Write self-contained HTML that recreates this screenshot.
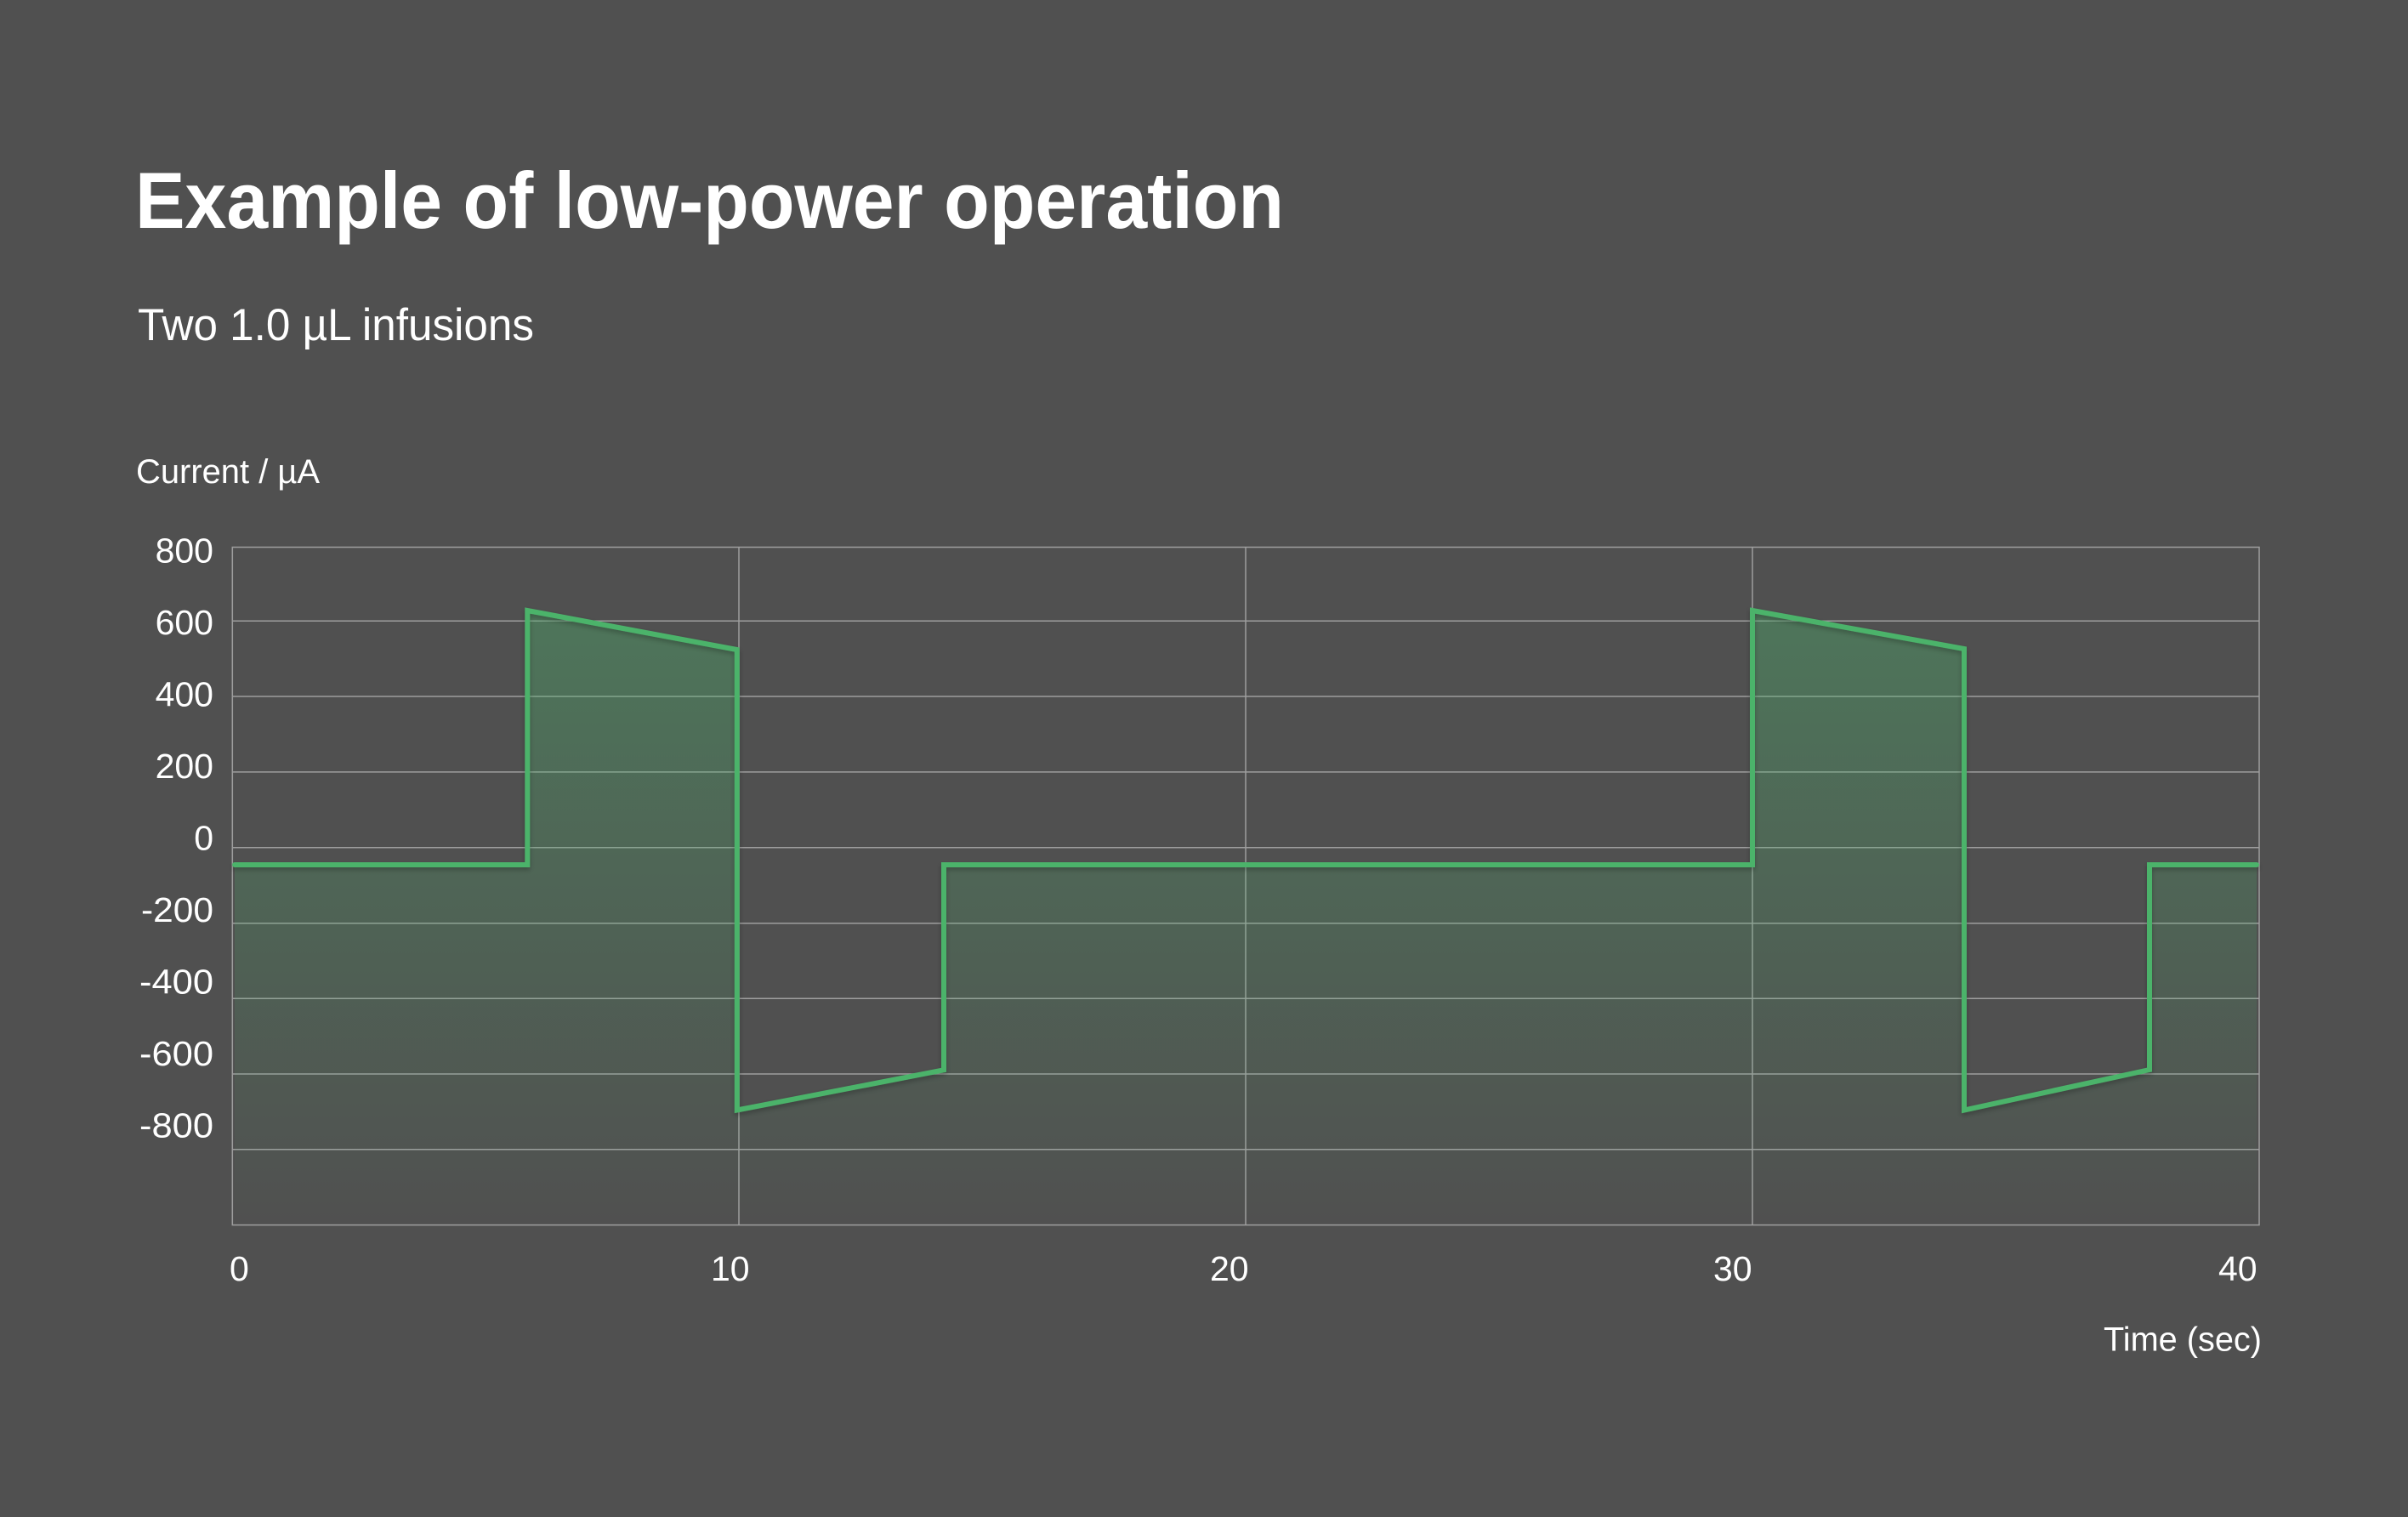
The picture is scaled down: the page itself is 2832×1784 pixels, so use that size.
<!DOCTYPE html>
<html>
<head>
<meta charset="utf-8">
<style>
  html, body { margin: 0; padding: 0; background: #505050; }
  body { width: 2832px; height: 1784px; overflow: hidden; }
  svg { display: block; }
  text { font-family: "Liberation Sans", "DejaVu Sans", sans-serif; fill: #ffffff; }
</style>
</head>
<body>
<svg width="2832" height="1784" viewBox="0 0 2832 1784" xmlns="http://www.w3.org/2000/svg">
  <defs>
    <linearGradient id="fillGrad" gradientUnits="userSpaceOnUse" x1="0" y1="716" x2="0" y2="1441">
      <stop offset="0" stop-color="#4bb36b" stop-opacity="0.38"/>
      <stop offset="1" stop-color="#4bb36b" stop-opacity="0"/>
    </linearGradient>
    <filter id="shadow" x="-5%" y="-5%" width="110%" height="115%">
      <feDropShadow dx="0" dy="3" stdDeviation="3" flood-color="#000" flood-opacity="0.25"/>
    </filter>
  </defs>

  <rect x="0" y="0" width="2832" height="1784" fill="#505050"/>

  <!-- Title -->
  <text x="159" y="268" font-size="94" font-weight="bold" textLength="1351" lengthAdjust="spacingAndGlyphs">Example of low-power operation</text>
  <!-- Subtitle -->
  <text x="162" y="400" font-size="53" textLength="466" lengthAdjust="spacingAndGlyphs">Two 1.0 µL infusions</text>
  <!-- Y axis title -->
  <text x="160" y="568" font-size="40" textLength="216" lengthAdjust="spacingAndGlyphs">Current / µA</text>

  <!-- Grid -->
  <g stroke="#9e9e9e" stroke-width="1.5" fill="none">
    <line x1="273.3" y1="730.3" x2="2657" y2="730.3"/>
    <line x1="273.3" y1="819" x2="2657" y2="819"/>
    <line x1="273.3" y1="907.9" x2="2657" y2="907.9"/>
    <line x1="273.3" y1="996.7" x2="2657" y2="996.7"/>
    <line x1="273.3" y1="1085.7" x2="2657" y2="1085.7"/>
    <line x1="273.3" y1="1174.3" x2="2657" y2="1174.3"/>
    <line x1="273.3" y1="1263" x2="2657" y2="1263"/>
    <line x1="273.3" y1="1351.8" x2="2657" y2="1351.8"/>
    <line x1="869" y1="643.5" x2="869" y2="1440.6"/>
    <line x1="1465" y1="643.5" x2="1465" y2="1440.6"/>
    <line x1="2061" y1="643.5" x2="2061" y2="1440.6"/>
    <rect x="273.3" y="643.5" width="2383.7" height="797.1"/>
  </g>

  <!-- Area fill -->
  <path d="M276 1017 L620.3 1017 L620.3 718 L866.8 764 L866.8 1305.5 L1110 1258.3 L1110 1017 L2061 1017 L2061 718 L2310 763 L2310 1305.5 L2528 1258 L2528 1017 L2654 1017 L2654 1440.6 L276 1440.6 Z" fill="url(#fillGrad)" stroke="none"/>

  <!-- Line -->
  <path d="M276 1017 L620.3 1017 L620.3 718 L866.8 764 L866.8 1305.5 L1110 1258.3 L1110 1017 L2061 1017 L2061 718 L2310 763 L2310 1305.5 L2528 1258 L2528 1017 L2654 1017" fill="none" stroke="#4bb36b" stroke-width="6" stroke-linejoin="miter" stroke-linecap="round" filter="url(#shadow)"/>

  <!-- Y tick labels -->
  <g font-size="41">
    <text x="251" y="661.7" text-anchor="end">800</text>
    <text x="251" y="746.2" text-anchor="end">600</text>
    <text x="251" y="830.7" text-anchor="end">400</text>
    <text x="251" y="915.2" text-anchor="end">200</text>
    <text x="251" y="999.7" text-anchor="end">0</text>
    <text x="166" y="1084.2" textLength="85" lengthAdjust="spacingAndGlyphs">-200</text>
    <text x="164" y="1168.7" textLength="87" lengthAdjust="spacingAndGlyphs">-400</text>
    <text x="164" y="1253.2" textLength="87" lengthAdjust="spacingAndGlyphs">-600</text>
    <text x="164" y="1337.7" textLength="87" lengthAdjust="spacingAndGlyphs">-800</text>
  </g>

  <!-- X tick labels -->
  <g font-size="41">
    <text x="270" y="1506">0</text>
    <text x="836" y="1506">10</text>
    <text x="1423" y="1506">20</text>
    <text x="2015" y="1506">30</text>
    <text x="2609" y="1506">40</text>
  </g>

  <!-- X axis title -->
  <text x="2474" y="1588.5" font-size="40" textLength="186" lengthAdjust="spacingAndGlyphs">Time (sec)</text>
</svg>
</body>
</html>
